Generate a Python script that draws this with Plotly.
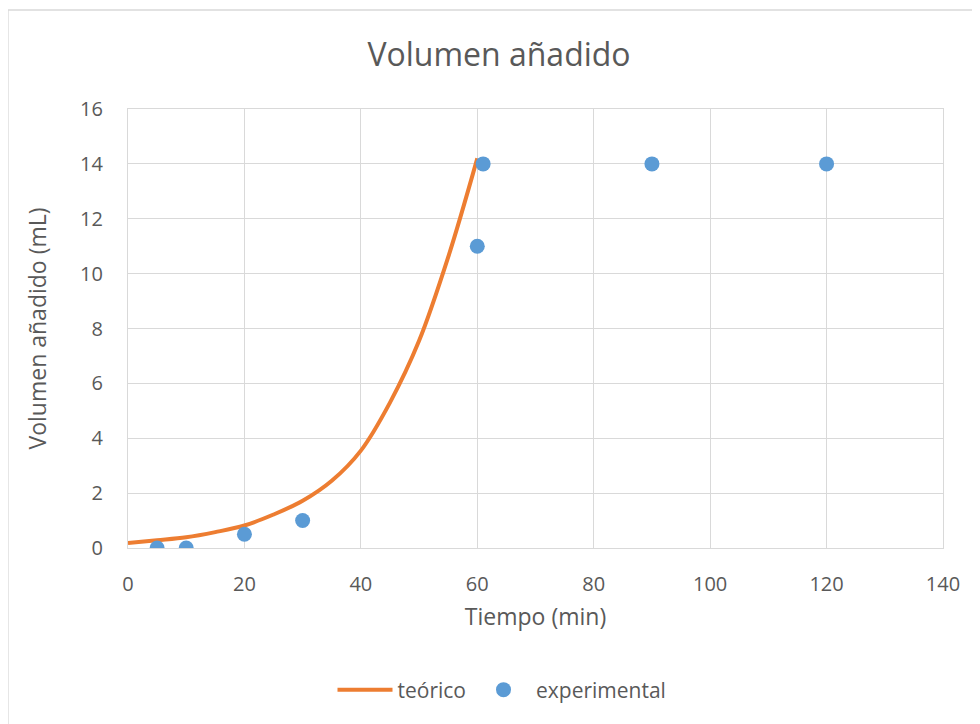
import plotly.graph_objects as go

# Theoretical curve
t_teo = [0, 5, 10, 15, 20, 25, 30, 35, 40, 45, 50, 55, 60]
v_teo = [0.18, 0.28, 0.39, 0.58, 0.82, 1.22, 1.72, 2.45, 3.55, 5.3, 7.55, 10.6, 14.2]

# Experimental points
t_exp = [5, 10, 20, 30, 60, 61, 90, 120]
v_exp = [0, 0, 0.5, 1, 11, 14, 14, 14]

x_ticks = [0, 20, 40, 60, 80, 100, 120, 140]
y_ticks = [0, 2, 4, 6, 8, 10, 12, 14, 16]

FONT = "Open Sans"
TXT = "#595959"
GRID = "#D9D9D9"

W, H = 972, 716
L, T, R, B = 120, 101, 37, 176
PW, PH = W - L - R, H - T - B

fig = go.Figure()
fig.add_trace(go.Scatter(
    x=t_teo, y=v_teo, mode="lines", name="teórico",
    line=dict(color="#ED7D31", width=4, shape="spline", smoothing=1.0),
))
fig.add_trace(go.Scatter(
    x=t_exp, y=v_exp, mode="markers", name="experimental",
    marker=dict(color="#5B9BD5", size=15),
))

fig.update_layout(
    width=W, height=H,
    paper_bgcolor="white", plot_bgcolor="white",
    margin=dict(l=L, r=R, t=T, b=B, pad=0),
    font=dict(family=FONT, color=TXT, size=20),
    title=dict(text="Volumen añadido", x=491/W, xanchor="center",
               y=1 - 47/H, yanchor="middle",
               font=dict(family=FONT, size=32, color=TXT)),
    xaxis=dict(range=[0, 140], tickvals=x_ticks, showgrid=True, gridcolor=GRID,
               gridwidth=1.3, zeroline=False, showline=True, mirror=True,
               linecolor=GRID, linewidth=1.3, ticks="", ticklabelstandoff=18,
               tickfont=dict(size=20, color=TXT),
               title=dict(text="Tiempo (min)", font=dict(size=23, color=TXT), standoff=12)),
    yaxis=dict(range=[0, 16], tickvals=y_ticks, showgrid=True, gridcolor=GRID,
               gridwidth=1.3, zeroline=False, showline=True, mirror=True,
               linecolor=GRID, linewidth=1.3, ticks="", ticklabelstandoff=20,
               tickfont=dict(size=20, color=TXT),
               title=dict(text="Volumen añadido (mL)", font=dict(size=23, color=TXT), standoff=26)),
    legend=dict(orientation="h", x=(494 - L)/PW, xanchor="center", y=-(682 - (T + PH))/PH,
                yanchor="middle", font=dict(size=21, color=TXT),
                itemwidth=55, bgcolor="rgba(0,0,0,0)"),
    shapes=[dict(type="rect", xref="paper", yref="paper",
                 x0=(0 - L)/PW, x1=1.2, y0=-0.6, y1=(T + PH - 2)/PH,
                 line=dict(color=GRID, width=1.3), layer="below")],
)

fig.write_html("out.html")
